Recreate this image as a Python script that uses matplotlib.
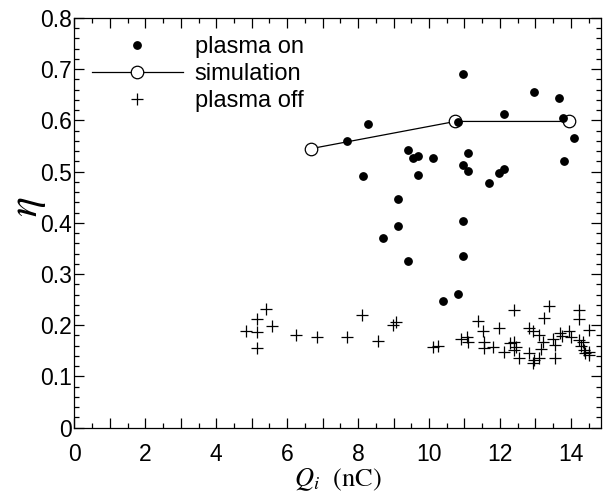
import matplotlib

matplotlib.use("Agg")
import matplotlib.pyplot as plt
from matplotlib.ticker import MultipleLocator, FuncFormatter

plt.rcParams["font.family"] = ["Liberation Sans", "DejaVu Sans"]
plt.rcParams["mathtext.fontset"] = "stix"

# measured efficiency, plasma on
on_q = [10.95, 12.95, 13.66, 12.11, 8.28, 10.81, 13.79, 14.08, 7.70, 9.40,
        9.54, 9.69, 10.11, 11.11, 10.95, 11.11, 13.80, 8.14, 9.69, 11.68,
        11.96, 12.11, 9.12, 9.12, 8.70, 10.97, 10.97, 9.40, 10.83, 10.39]
on_eta = [0.690, 0.655, 0.643, 0.612, 0.593, 0.596, 0.604, 0.565, 0.559, 0.542,
          0.527, 0.531, 0.526, 0.537, 0.513, 0.502, 0.520, 0.492, 0.494, 0.477,
          0.497, 0.505, 0.447, 0.393, 0.370, 0.403, 0.335, 0.326, 0.261, 0.248]

# simulation
sim_q = [6.68, 10.74, 13.94]
sim_eta = [0.545, 0.598, 0.598]

# plasma off
off_q = [4.85, 5.15, 5.15, 5.15, 5.41, 5.57, 6.26, 6.84, 7.70, 8.11,
         8.55, 8.98, 9.08, 10.11, 10.25, 10.91, 11.06, 11.09, 11.39, 11.52,
         11.54, 11.54, 11.80, 11.97, 12.10, 12.27, 12.41, 12.46, 12.41, 12.41,
         12.53, 12.81, 12.92, 12.83, 12.97, 12.94, 13.11, 13.16, 13.21, 13.11,
         13.23, 13.37, 13.51, 13.54, 13.54, 13.68, 13.75, 13.94, 14.01, 14.24,
         14.24, 14.22, 14.35, 14.29, 14.50, 14.38, 14.52, 14.52, 14.41]
off_eta = [0.189, 0.212, 0.186, 0.156, 0.231, 0.198, 0.180, 0.177, 0.177, 0.220,
           0.169, 0.201, 0.207, 0.158, 0.160, 0.173, 0.177, 0.168, 0.208, 0.188,
           0.168, 0.155, 0.158, 0.194, 0.148, 0.165, 0.168, 0.158, 0.152, 0.229,
           0.136, 0.194, 0.189, 0.145, 0.132, 0.126, 0.136, 0.153, 0.168, 0.181,
           0.214, 0.238, 0.173, 0.162, 0.136, 0.184, 0.179, 0.188, 0.177, 0.229,
           0.212, 0.171, 0.168, 0.160, 0.191, 0.152, 0.148, 0.142, 0.145]

fig = plt.figure(figsize=(6.05, 4.93), dpi=100)
ax = fig.add_axes([0.1231, 0.1325, 0.8703, 0.831])

ax.plot(on_q, on_eta, "o", color="k", ms=5.3, label="plasma on", zorder=3)
ax.plot(sim_q, sim_eta, "-o", color="k", mfc="white", mec="k", ms=9,
        lw=0.9, mew=0.9, label="simulation", zorder=2)
ax.plot(off_q, off_eta, "+", color="k", ms=8.5, mew=0.9, label="plasma off")

ax.set_xlim(0, 14.85)
ax.set_ylim(0, 0.8)
ax.xaxis.set_major_locator(MultipleLocator(1))
ax.xaxis.set_minor_locator(MultipleLocator(0.5))
ax.xaxis.set_major_formatter(FuncFormatter(
    lambda v, p: f"{int(round(v))}" if int(round(v)) % 2 == 0 else ""))
ax.yaxis.set_major_locator(MultipleLocator(0.1))
ax.yaxis.set_minor_locator(MultipleLocator(0.02))
ax.yaxis.set_major_formatter(FuncFormatter(
    lambda v, p: "0" if abs(v) < 1e-9 else f"{v:.1f}"))

ax.tick_params(which="both", direction="in", top=True, right=True,
               labelsize=16.5, width=0.9)
ax.tick_params(which="major", length=7)
ax.tick_params(which="minor", length=3.5)
ax.tick_params(axis="x", pad=11)
ax.tick_params(axis="y", pad=2)
for s in ax.spines.values():
    s.set_linewidth(0.9)

ax.set_xlabel(r"$Q_i$  (nC)", fontsize=19, family="STIXGeneral", labelpad=0)
ax.set_ylabel(r"$\eta$", fontsize=30)
ax.yaxis.set_label_coords(-0.05, 0.54)

ax.legend(loc="upper left", bbox_to_anchor=(0.033, 0.956), frameon=False,
          fontsize=17, numpoints=1, handlelength=3.85, handletextpad=0.5,
          labelspacing=0.22, borderpad=0, borderaxespad=0)

fig.savefig("out.png", dpi=100)
